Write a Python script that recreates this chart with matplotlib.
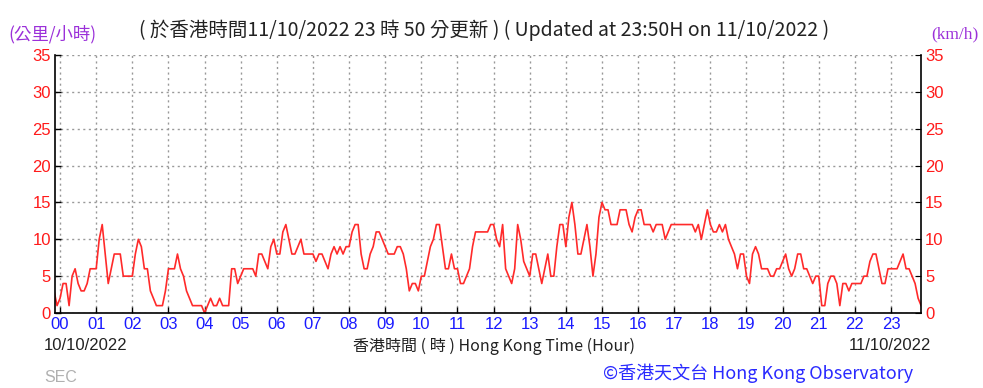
import numpy as np
import matplotlib
matplotlib.use('Agg')
import matplotlib.pyplot as plt

# wind speed (km/h), 5-minute samples, starting two samples before 00:00
speed_00_06 = [3, 1, 2, 4, 4, 1, 5, 6, 4, 3, 3, 4, 6, 6,
               6, 10, 12, 8, 4, 6, 8, 8, 8, 5, 5, 5,
               5, 8, 10, 9, 6, 6, 3, 2, 1, 1, 1, 3,
               6, 6, 6, 8, 6, 5, 3, 2, 1, 1, 1, 1,
               0, 1, 2, 1, 1, 2, 1, 1, 1, 6, 6, 4,
               5, 6, 6, 6, 6, 5, 8, 8, 7, 6, 9, 10]
speed_06_12 = [8, 8, 11, 12, 10, 8, 8, 9, 10, 8, 8, 8,
               8, 7, 8, 8, 7, 6, 8, 9, 8, 9, 8, 9,
               9, 11, 12, 12, 8, 6, 6, 8, 9, 11, 11, 10,
               9, 8, 8, 8, 9, 9, 8, 6, 3, 4, 4, 3,
               5, 5, 7, 9, 10, 12, 12, 9, 6, 6, 8, 6,
               6, 4, 4, 5, 6, 9, 11, 11, 11, 11, 11, 12]
speed_12_18 = [12, 10, 9, 12, 6, 5, 4, 6, 12, 10, 7, 6,
               5, 8, 8, 6, 4, 6, 8, 5, 5, 9, 12, 12,
               9, 13, 15, 12, 8, 8, 10, 12, 9, 5, 8, 13,
               15, 14, 14, 12, 12, 12, 14, 14, 14, 12, 11, 13,
               14, 14, 12, 12, 12, 11, 12, 12, 12, 10, 11, 12,
               12, 12, 12, 12, 12, 12, 12, 11, 12, 10, 12, 14]
speed_18_24 = [12, 11, 11, 12, 11, 12, 10, 9, 8, 6, 8, 8,
               5, 4, 8, 9, 8, 6, 6, 6, 5, 5, 6, 6,
               7, 8, 6, 5, 6, 8, 8, 6, 6, 5, 4, 5,
               5, 1, 1, 4, 5, 5, 4, 1, 4, 4, 3, 4,
               4, 4, 4, 5, 5, 7, 8, 8, 6, 4, 4, 6,
               6, 6, 6, 7, 8, 6, 6, 5, 4, 2, 1]

hour_labels = ['%02d' % h for h in range(24)]
y_ticks = [0, 5, 10, 15, 20, 25, 30, 35]

speed = speed_00_06 + speed_06_12 + speed_12_18 + speed_18_24
hours = (np.arange(len(speed)) - 2) / 12.0

narrow = ['Liberation Sans Narrow', 'Liberation Sans', 'DejaVu Sans']
cjk = ['Noto Sans CJK TC', 'DejaVu Sans']

fig = plt.figure(figsize=(9.83, 3.88), dpi=100)
ax = fig.add_axes([55 / 983, 1 - 313 / 388, 866 / 983, 258 / 388])

ax.plot(hours, speed, color='#ff2a2a', lw=1.2)

ax.set_xlim(-0.14, 23.83)
ax.set_ylim(0, 35)
ax.set_xticks(range(24))
ax.set_xticklabels(hour_labels, color='#1a1aff', fontsize=12, family=narrow)
ax.set_yticks(y_ticks)
ax.set_yticklabels([str(v) for v in y_ticks], color='#ff1a1a', fontsize=12, family=narrow)
ax.tick_params(axis='both', direction='in', length=4, width=1, pad=3, right=True)

ax.grid(True, color='#999999', linestyle=(0, (1.5, 2.5)), linewidth=1)
ax.spines['top'].set_visible(False)
for s in ['left', 'right', 'bottom']:
    ax.spines[s].set_color('black')
    ax.spines[s].set_linewidth(1.2)

# right axis tick labels
ax2 = ax.twinx()
ax2.set_ylim(0, 35)
ax2.set_yticks(y_ticks)
ax2.set_yticklabels([str(v) for v in y_ticks], color='#ff1a1a', fontsize=12, family=narrow)
ax2.tick_params(axis='y', direction='in', length=4, pad=3)
for s in ax2.spines.values():
    s.set_visible(False)

fig.text(484 / 983, 1 - 30 / 388,
         '( 於香港時間11/10/2022 23 時 50 分更新 ) ( Updated at 23:50H on 11/10/2022 )',
         ha='center', va='center', fontsize=14, color='#222222', family=cjk)
fig.text(8 / 983, 1 - 34 / 388, '(公里/小時)', ha='left', va='center',
         fontsize=12.5, color='#9b30d9', family=cjk)
fig.text(979 / 983, 1 - 34 / 388, '(km/h)', ha='right', va='center',
         fontsize=12.5, color='#9b30d9', family='Liberation Serif')

fig.text(44 / 983, 1 - 346 / 388, '10/10/2022', ha='left', va='center',
         fontsize=12, color='#222222', family=narrow)
fig.text(494 / 983, 1 - 346 / 388, '香港時間 ( 時 ) Hong Kong Time (Hour)', ha='center',
         va='center', fontsize=11.5, color='#222222', family=['Noto Sans CJK TC'] + narrow)
fig.text(931 / 983, 1 - 346 / 388, '11/10/2022', ha='right', va='center',
         fontsize=12, color='#222222', family=narrow)
fig.text(44 / 983, 1 - 377 / 388, 'SEC', ha='left', va='center',
         fontsize=11.5, color='#b0b0b0', family=narrow)
fig.text(913 / 983, 1 - 373 / 388, '©香港天文台 Hong Kong Observatory', ha='right',
         va='center', fontsize=13, color='#2a2aff', family=['Noto Sans CJK TC'] + narrow)

fig.savefig('out.png', dpi=100)
